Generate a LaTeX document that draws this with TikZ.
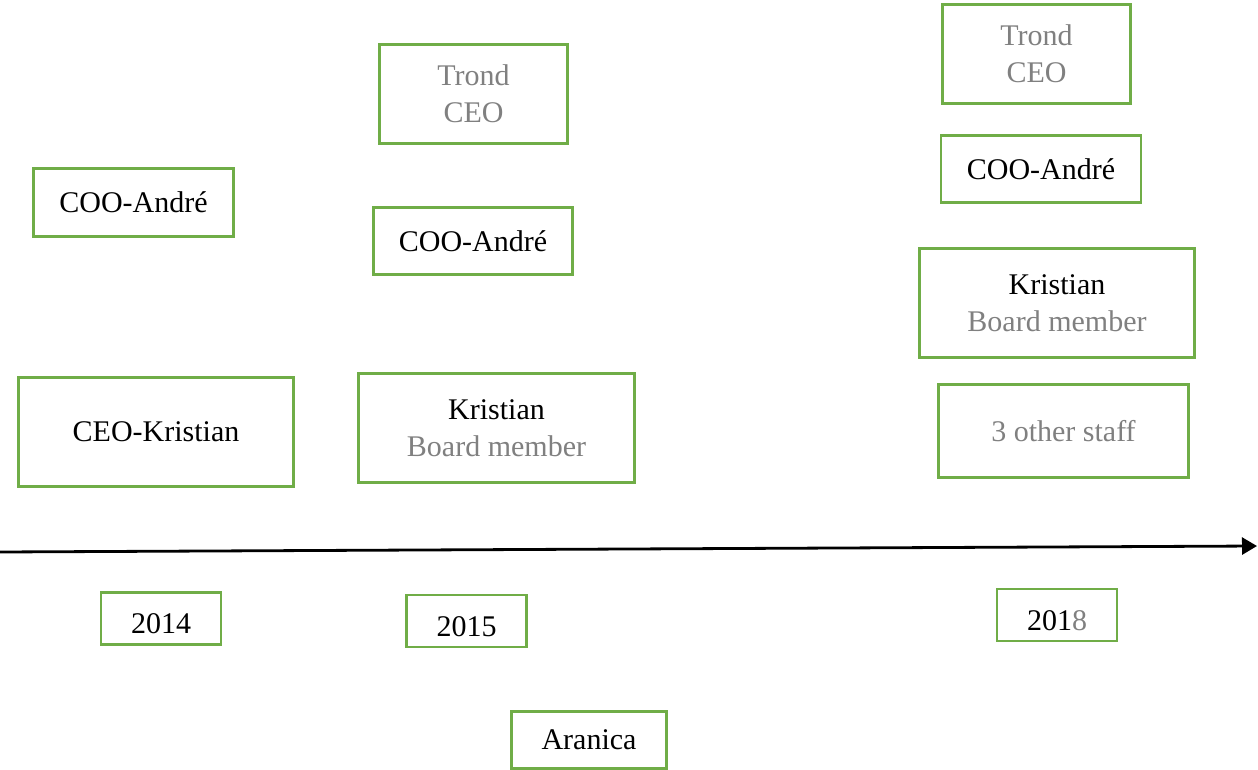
\documentclass[tikz,border=0pt]{standalone}
\usepackage{fontspec}
\setmainfont{Liberation Serif}
\usetikzlibrary{arrows.meta}
\definecolor{boxgreen}{HTML}{70AD47}
\definecolor{txtgray}{HTML}{808080}
\begin{document}
\begin{tikzpicture}[x=1pt,y=-1pt,
  box/.style={draw=boxgreen, line width=2.6pt, rectangle, inner sep=0pt, align=center,
    font=\fontsize{30}{37}\selectfont, text=black},
  faded/.style={text=txtgray},
  yearbox/.style={box, minimum width=120pt, minimum height=52pt, text height=30pt, text depth=0pt}]
\useasboundingbox (0,0) rectangle (1258,770);
% 2014
\node[box, minimum width=200pt, minimum height=68pt] (coo14) at (133.5,202.5) {COO-André};
\node[box, minimum width=275pt, minimum height=109pt] (ceo14) at (156,432) {CEO-Kristian};
% 2015
\node[box, faded, minimum width=188pt, minimum height=99pt] (trond15) at (473.5,94) {Trond\\CEO};
\node[box, minimum width=199pt, minimum height=67pt] (coo15) at (473,241) {COO-André};
\node[box, minimum width=276pt, minimum height=109pt] (kri15) at (496.5,428) {Kristian\\{\color{txtgray}Board member}};
% 2018
\node[box, faded, minimum width=188pt, minimum height=99pt] (trond18) at (1036.5,54) {Trond\\CEO};
\node[box, minimum width=200pt, minimum height=67pt] (coo18) at (1041,169) {COO-André};
\node[box, minimum width=275pt, minimum height=109pt] (kri18) at (1057,303) {Kristian\\{\color{txtgray}Board member}};
\node[box, faded, minimum width=250pt, minimum height=93pt] (staff18) at (1063.5,431) {3 other staff};
% years
\node[yearbox] (y14) at (161,618.5) {2014};
\node[yearbox] (y15) at (466.5,621) {2015};
\node[yearbox] (y18) at (1057,615) {201{\color{txtgray}8}};
\node[box, minimum width=155pt, minimum height=57pt] (aranica) at (589,740) {Aranica};
% timeline
\coordinate (tstart) at (0,552);
\coordinate (tend) at (1257,546);
\draw[line width=2.8pt, -{Triangle[length=15pt,width=17pt]}] (tstart) -- (tend);
\end{tikzpicture}
\end{document}
